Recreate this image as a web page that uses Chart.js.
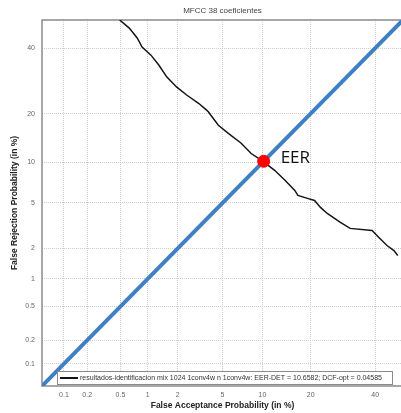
<!DOCTYPE html>
<html>
<head>
<meta charset="utf-8">
<script src="https://cdn.jsdelivr.net/npm/chart.js@4/dist/chart.umd.min.js"></script>
<style>
  html, body { margin: 0; padding: 0; background: #fff; overflow: hidden; }
  #wrap { width: 410px; height: 413px; }
</style>
</head>
<body>
<div id="wrap"><canvas id="det" width="410" height="413"></canvas></div>
<script>
// DET plot, both axes on a normal-deviate (probit) scale, values in %.
const TITLE = "MFCC 38 coeficientes";
const X_TITLE = "False Acceptance Probability (in %)";
const Y_TITLE = "False Rejection Probability (in %)";
const LEGEND_TEXT = "resultados-identificacion mix 1024 1conv4w n 1conv4w: EER-DET = 10.6582; DCF-opt = 0.04585";

const AXIS_MIN_PCT = 0.05;
const AXIS_MAX_PCT = 50;
const TICKS_PCT = [0.1, 0.2, 0.5, 1, 2, 5, 10, 20, 40];
const TICK_LABELS = ["0.1", "0.2", "0.5", "1", "2", "5", "10", "20", "40"];

// DET curve
const FA_PCT = [0.49, 0.63, 0.77, 0.87, 1.08, 1.30, 1.57, 1.96, 2.43, 3.12, 3.67, 3.81, 4.62, 5.57, 7.01, 8.32,
  10.1, 12.1, 14.1, 16.2, 16.9, 19.2, 21.0, 22.6, 24.5, 28.4, 31.5, 38.9, 41.3, 44.2, 46.7, 48.1];
const FR_PCT = [50, 47.1, 43.6, 40.4, 37.6, 34.3, 30.4, 27.3, 25.0, 22.7, 20.9, 20.4, 17.2, 15.4, 13.4, 11.5,
  10.2, 8.83, 7.48, 6.28, 5.74, 5.44, 5.24, 4.60, 4.10, 3.44, 3.05, 2.92, 2.53, 2.13, 1.91, 1.71];

// y = x reference line and the EER marker
const DIAG_PCT = [0.05, 50];
const EER_PCT = 10.2;

const COLORS = {
  det: "#151515",
  diag: "#3f7fc3",
  eer: "#ff0000",
  grid: "#cfcfcf",
  frame: "#8a8a8a",
  tick: "#666",
};

// inverse normal CDF (Acklam), p in (0,1)
function probit(p) {
  const a = [-39.69683028665376, 220.9460984245205, -275.9285104469687, 138.3577518672690, -30.66479806614716, 2.506628277459239];
  const b = [-54.47609879822406, 161.5858368580409, -155.6989798598866, 66.80131188771972, -13.28068155288572];
  const c = [-0.007784894002430293, -0.3223964580411365, -2.400758277161838, -2.549732539343734, 4.374664141464968, 2.938163982698783];
  const d = [0.007784695709041462, 0.3224671290700398, 2.445134137142996, 3.754408661907416];
  const plow = 0.02425;
  let q, r;
  if (p < plow) {
    q = Math.sqrt(-2 * Math.log(p));
    return (((((c[0] * q + c[1]) * q + c[2]) * q + c[3]) * q + c[4]) * q + c[5]) /
      ((((d[0] * q + d[1]) * q + d[2]) * q + d[3]) * q + 1);
  }
  if (p <= 1 - plow) {
    q = p - 0.5; r = q * q;
    return (((((a[0] * r + a[1]) * r + a[2]) * r + a[3]) * r + a[4]) * r + a[5]) * q /
      (((((b[0] * r + b[1]) * r + b[2]) * r + b[3]) * r + b[4]) * r + 1);
  }
  q = Math.sqrt(-2 * Math.log(1 - p));
  return -(((((c[0] * q + c[1]) * q + c[2]) * q + c[3]) * q + c[4]) * q + c[5]) /
    ((((d[0] * q + d[1]) * q + d[2]) * q + d[3]) * q + 1);
}
const dev = (pct) => probit(pct / 100);

const FONT = "'Liberation Sans', Arial, sans-serif";

function probitAxis(title, isX) {
  return {
    type: "linear",
    min: dev(AXIS_MIN_PCT),
    max: dev(AXIS_MAX_PCT),
    afterBuildTicks: (scale) => { scale.ticks = TICKS_PCT.map((v) => ({ value: dev(v) })); },
    afterFit: (scale) => { if (isX) scale.height = 27; else scale.width = 42; },
    ticks: {
      callback: (val, i) => TICK_LABELS[i],
      color: COLORS.tick,
      font: { family: FONT, size: 7 },
      padding: isX ? 5 : 7,
      maxRotation: 0,
      autoSkip: false,
    },
    grid: { color: COLORS.grid, drawTicks: false, tickBorderDash: [1, 1] },
    border: { display: false, dash: [1, 1] },
    title: {
      display: true,
      text: title,
      color: "#222",
      font: { family: FONT, size: 8.5, weight: "bold" },
      padding: isX ? { top: 0, bottom: 2 } : { top: 10, bottom: 0 },
    },
  };
}

// frame, title, EER label and the in-plot legend box
const decorations = {
  id: "decorations",
  beforeDatasetsDraw(chart) {
    const { ctx, chartArea: a } = chart;
    ctx.save();
    ctx.strokeStyle = COLORS.frame;
    ctx.lineWidth = 1.5;
    ctx.strokeRect(a.left, a.top, a.right - a.left, a.bottom - a.top);
    ctx.restore();
  },
  afterDraw(chart) {
    const { ctx, chartArea: a, scales } = chart;
    ctx.save();
    ctx.fillStyle = "#444";
    ctx.font = `8px ${FONT}`;
    ctx.textAlign = "center";
    ctx.textBaseline = "middle";
    ctx.fillText(TITLE, (a.left + a.right) / 2, 11);

    // EER label next to the marker
    const ex = scales.x.getPixelForValue(dev(EER_PCT));
    const ey = scales.y.getPixelForValue(dev(EER_PCT));
    ctx.fillStyle = "#111";
    ctx.font = `17px 'Open Sans', ${FONT}`;
    ctx.textAlign = "left";
    ctx.textBaseline = "middle";
    ctx.fillText("EER", ex + 17, ey - 3);

    // legend box
    const bx = 57, by = 371, bw = 335, bh = 13;
    ctx.fillStyle = "#fff";
    ctx.fillRect(bx, by, bw, bh);
    ctx.strokeStyle = "#8a8a8a";
    ctx.lineWidth = 1;
    ctx.strokeRect(bx + 0.5, by + 0.5, bw, bh);
    ctx.strokeStyle = COLORS.det;
    ctx.lineWidth = 2;
    ctx.beginPath();
    ctx.moveTo(bx + 3, by + bh / 2 + 0.5);
    ctx.lineTo(bx + 21, by + bh / 2 + 0.5);
    ctx.stroke();
    ctx.fillStyle = "#333";
    ctx.font = `7px ${FONT}`;
    ctx.textBaseline = "middle";
    const maxW = bw - 27;
    const w = ctx.measureText(LEGEND_TEXT).width;
    ctx.translate(bx + 23, by + bh / 2 + 1);
    if (w > maxW) ctx.scale(maxW / w, 1);
    ctx.fillText(LEGEND_TEXT, 0, 0);
    ctx.restore();
  },
};

new Chart(document.getElementById("det"), {
  type: "scatter",
  data: {
    datasets: [
      {
        label: "det",
        data: FA_PCT.map((x, i) => ({ x: dev(x), y: dev(FR_PCT[i]) })),
        showLine: true,
        borderColor: COLORS.det,
        borderWidth: 1.5,
        pointRadius: 0,
        order: 3,
      },
      {
        label: "diag",
        data: DIAG_PCT.map((v) => ({ x: dev(v), y: dev(v) })),
        showLine: true,
        borderColor: COLORS.diag,
        borderWidth: 4,
        pointRadius: 0,
        order: 2,
      },
      {
        label: "eer",
        data: [{ x: dev(EER_PCT), y: dev(EER_PCT) }],
        backgroundColor: COLORS.eer,
        borderColor: COLORS.eer,
        pointRadius: 6,
        order: 1,
      },
    ],
  },
  options: {
    responsive: false,
    animation: false,
    layout: { padding: { top: 20, right: 3, left: 0, bottom: 0 } },
    scales: {
      x: probitAxis(X_TITLE, true),
      y: probitAxis(Y_TITLE, false),
    },
    plugins: {
      legend: { display: false },
      tooltip: { enabled: false },
      title: { display: false },
    },
  },
  plugins: [decorations],
});
</script>
</body>
</html>
